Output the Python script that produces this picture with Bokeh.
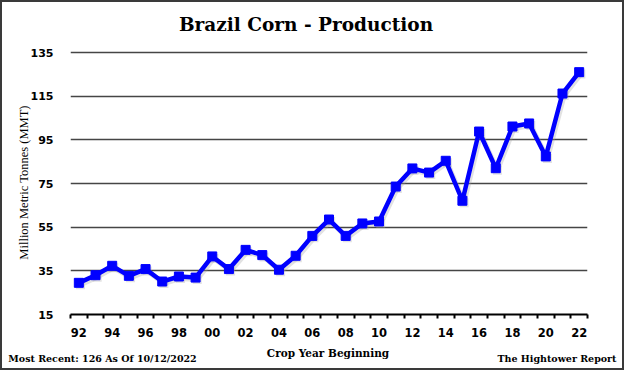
import numpy as np
from bokeh.plotting import figure
from bokeh.layouts import column
from bokeh.models import (Range1d, FixedTicker, ColumnDataSource, LinearAxis)
from bokeh.embed import file_html
from bokeh.resources import INLINE

# ---- data ----
years = list(range(1992, 2023))
production = [29.5, 33.0, 37.3, 32.7, 35.8, 30.1, 32.4, 31.9, 41.6, 35.8,
              44.6, 42.2, 35.5, 41.9, 51.0, 58.5, 51.0, 56.7, 57.6, 73.6,
              81.9, 80.0, 85.4, 67.1, 98.8, 82.0, 101.1, 102.5, 87.4, 116.2,
              126.0]
label_years = list(range(1992, 2023, 2))
x_tick_labels = ["92", "94", "96", "98", "00", "02", "04", "06", "08", "10",
                 "12", "14", "16", "18", "20", "22"]
y_ticks = [15, 35, 55, 75, 95, 115, 135]

title_text = "Brazil Corn - Production"
y_label_text = "Million Metric Tonnes (MMT)"
x_label_text = "Crop Year Beginning"
footer_left = "Most Recent: 126 As Of 10/12/2022"
footer_right = "The Hightower Report"

B = 2                      # outer border width (CSS)
W, H = 624 - 2 * B, 370 - 2 * B
FL, FR, FT, FB = 70, 587, 50, 314  # frame box in page pixels
px_per_unit = (314 - 52) / 120.0
px_per_year = (FR - FL) / 31.0
y_top = 135 + (52 - FT) / px_per_unit

p = figure(width=W, height=H, output_backend="svg", toolbar_location=None,
           x_range=Range1d(1991.5, 2022.5), y_range=Range1d(15, y_top),
           min_border_left=FL - B, min_border_right=W - (FR - B),
           min_border_top=FT - B, min_border_bottom=H - (FB - B))
p.outline_line_color = None
p.background_fill_color = "white"
p.border_fill_color = "white"
p.title.text = ""


def dx(page_x):
    return 1991.5 + (page_x - FL) / px_per_year


def text_axis(labels_at, standoff, size, font="DejaVu Serif"):
    ax = LinearAxis(ticker=FixedTicker(ticks=[dx(px) for px, _ in labels_at]),
                    major_label_overrides={dx(px): t for px, t in labels_at})
    ax.axis_line_color = None
    ax.major_tick_line_color = None
    ax.minor_tick_line_color = None
    ax.major_tick_out = 0
    ax.major_tick_in = 0
    ax.minor_tick_out = 0
    ax.minor_tick_in = 0
    ax.major_label_standoff = standoff
    ax.major_label_text_font = font
    ax.major_label_text_font_style = "bold"
    ax.major_label_text_font_size = size
    ax.major_label_text_color = "black"
    return ax


# main x axis
mx = p.xaxis[0]
mx.ticker = FixedTicker(ticks=label_years,
                        minor_ticks=[y - 0.5 for y in years] + [years[-1] + 0.5])
mx.major_label_overrides = {y: t for y, t in zip(label_years, x_tick_labels)}
mx.axis_line_color = "black"
mx.axis_line_width = 2
mx.major_tick_out = 0
mx.major_tick_in = 0
mx.minor_tick_out = 4
mx.minor_tick_in = 0
mx.minor_tick_line_width = 2
mx.minor_tick_line_color = "black"
mx.major_label_standoff = 9
mx.major_label_text_font = "DejaVu Sans"
mx.major_label_text_font_style = "bold"
mx.major_label_text_font_size = "11.5px"
mx.major_label_text_color = "black"

# chart title (above the frame), x-axis title row and footer row
p.add_layout(text_axis([(305.5, title_text)], 16, "18.5px"), "above")
p.add_layout(text_axis([(327.5, x_label_text)], 7, "10.5px"), "below")
p.add_layout(text_axis([(102.0, footer_left), (556.5, footer_right)], -9, "9.5px"),
             "below")

# y axis
my = p.yaxis[0]
my.ticker = FixedTicker(ticks=y_ticks)
my.axis_line_color = None
my.major_tick_line_color = None
my.minor_tick_line_color = None
my.major_tick_out = 0
my.major_tick_in = 0
my.minor_tick_out = 0
my.minor_tick_in = 0
my.major_label_standoff = 17
my.major_label_text_font = "DejaVu Sans"
my.major_label_text_font_style = "bold"
my.major_label_text_font_size = "11px"
my.major_label_text_color = "black"
my.axis_label = y_label_text
my.axis_label_text_font = "Liberation Serif"
my.axis_label_text_font_style = "normal"
my.axis_label_text_font_size = "12.5px"
my.axis_label_text_color = "black"
my.axis_label_standoff = -3

p.xgrid.grid_line_color = None
p.ygrid.grid_line_color = "#454545"
p.ygrid.grid_line_width = 1.6

src = ColumnDataSource(dict(x=years, y=production))
shadow = ColumnDataSource(dict(x=np.array(years) + 0.1,
                               y=np.array(production) - 0.9))
p.line("x", "y", source=shadow, line_color="#a0a0a0", line_width=5, line_alpha=0.3)
p.scatter("x", "y", source=shadow, marker="square", size=9, fill_color="#a0a0a0",
          line_color=None, fill_alpha=0.3)
p.line("x", "y", source=src, line_color="#0000ff", line_width=4.5)
p.scatter("x", "y", source=src, marker="square", size=9, fill_color="#0000ff",
          line_color="#0000ff")

layout = column(p, styles={"border": "%dpx solid #3a3a3a" % B,
                           "box-sizing": "content-box"})

open("out.html", "w").write(file_html(layout, INLINE))
